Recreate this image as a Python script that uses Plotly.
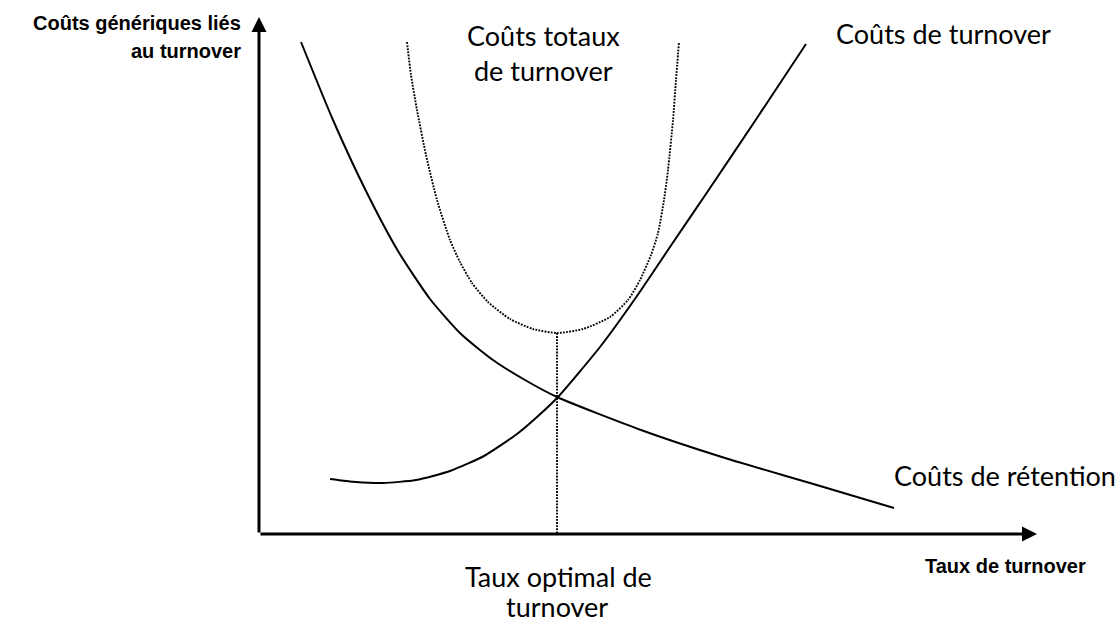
import plotly.graph_objects as go

# Stylised cost curves, origin at the crossing of the two axes
retention_x = [42, 74, 106, 139, 171, 202, 234, 266, 298, 382, 466, 551, 635]
retention_y = [492, 414, 345, 283, 235, 200, 174, 154, 137, 104, 76, 51, 26]

turnover_x = [71, 97, 124, 157, 191, 225, 258, 278, 298, 341, 378, 413, 449, 498, 547]
turnover_y = [55, 52, 51, 54, 63, 78, 100, 117, 136, 187, 238, 290, 343, 416, 490]

total_x = [148, 152, 158, 167, 178, 191, 201, 213, 229, 251, 274, 298,
           324, 351, 369, 381, 392, 399, 405, 409, 414, 417, 420]
total_y = [492, 459, 424, 379, 334, 294, 272, 251, 232, 215, 205, 201,
           205, 217, 234, 254, 279, 301, 334, 364, 414, 454, 492]

optimum_x = 298
optimum_y = 201

x_axis_end = 778
y_axis_end = 517

INK = "#000000"
BODY_FONT = "Lato"
AXIS_FONT = "Liberation Sans"
DOTS = "1.8px,1.3px"

fig = go.Figure()

fig.add_trace(go.Scatter(
    x=retention_x, y=retention_y, mode="lines",
    line=dict(color=INK, width=2, shape="spline", smoothing=0.6),
    hoverinfo="skip",
))
fig.add_trace(go.Scatter(
    x=turnover_x, y=turnover_y, mode="lines",
    line=dict(color=INK, width=2, shape="spline", smoothing=0.6),
    hoverinfo="skip",
))
fig.add_trace(go.Scatter(
    x=total_x, y=total_y, mode="lines",
    line=dict(color=INK, width=1.9, dash=DOTS, shape="spline", smoothing=0.6),
    hoverinfo="skip",
))
# drop line from the minimum of total costs to the horizontal axis
fig.add_trace(go.Scatter(
    x=[optimum_x, optimum_x], y=[optimum_y, 0], mode="lines",
    line=dict(color=INK, width=1.9, dash=DOTS),
    hoverinfo="skip",
))

# axes drawn as arrows
for tip_x, tip_y in [(0, y_axis_end), (x_axis_end, 0)]:
    fig.add_annotation(
        x=tip_x, y=tip_y, ax=0, ay=0, xref="x", yref="y", axref="x", ayref="y",
        text="", showarrow=True, arrowhead=2, arrowsize=1, arrowwidth=3,
        arrowcolor=INK, standoff=0, startstandoff=0,
    )

bold_labels = [
    ("Coûts génériques liés", -16, 511, "right"),
    ("au turnover", -16, 483, "right"),
    ("Taux de turnover", 746, -32, "center"),
]
for text, x, y, anchor in bold_labels:
    fig.add_annotation(
        x=x, y=y, xref="x", yref="y", text=f"<b>{text}</b>", showarrow=False,
        xanchor=anchor, yanchor="middle",
        font=dict(family=AXIS_FONT, size=20, color=INK),
    )

body_labels = [
    ("Coûts totaux", 284, 499, "center"),
    ("de turnover", 284, 464, "center"),
    ("Coûts de turnover", 684, 501, "center"),
    ("Coûts de rétention", 633, 59, "left"),
    ("Taux optimal de", 299, -42, "center"),
    ("turnover", 298, -72, "center"),
]
for text, x, y, anchor in body_labels:
    fig.add_annotation(
        x=x, y=y, xref="x", yref="y", text=text, showarrow=False,
        xanchor=anchor, yanchor="middle",
        font=dict(family=BODY_FONT, size=27, color=INK),
    )

fig.update_layout(
    width=1118, height=622,
    margin=dict(l=0, r=0, t=0, b=0),
    paper_bgcolor="white", plot_bgcolor="white",
    showlegend=False,
    xaxis=dict(range=[-259, 859], visible=False, fixedrange=True),
    yaxis=dict(range=[-88, 534], visible=False, fixedrange=True),
)

fig.write_html("out.html")
